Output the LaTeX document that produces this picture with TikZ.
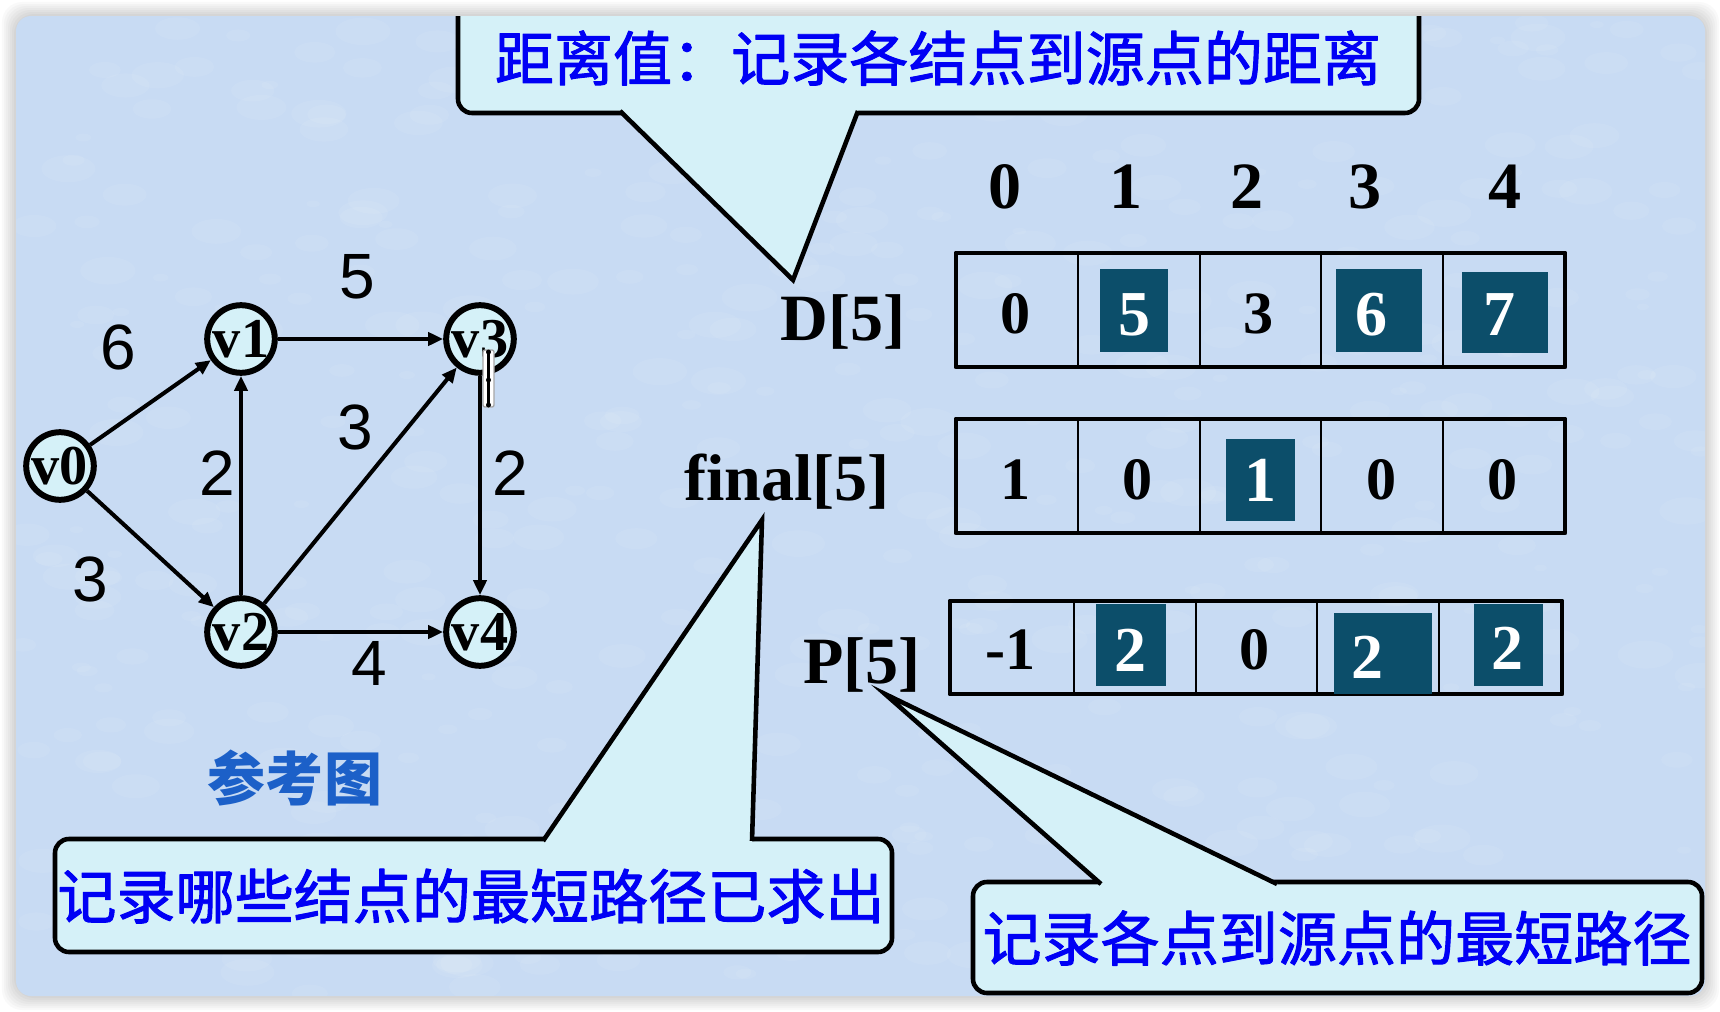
\documentclass[tikz,border=0pt]{standalone}
\usepackage[x11names]{xcolor}
\usepackage{fontspec}
\setmainfont{Liberation Serif}
\newfontfamily\sansnum{Liberation Sans}
\newfontfamily\cjk{Noto Sans CJK SC}[FakeBold=1.6]
\newfontfamily\cjkref{Noto Sans CJK SC}
\usetikzlibrary{arrows.meta}

\definecolor{panelbg}{RGB}{200,219,243}
\definecolor{tipfill}{RGB}{213,241,248}
\definecolor{cellmark}{RGB}{12,78,106}
\definecolor{tipblue}{RGB}{0,0,245}
\definecolor{refblue}{RGB}{28,96,200}

\begin{document}
\begin{tikzpicture}[x=0.01cm,y=-0.01cm,line join=round,
  vtx/.style={circle,draw,line width=1.7pt,fill=tipfill,minimum size=0.67cm,inner sep=0pt,font=\fontsize{16}{16}\selectfont\bfseries},
  edge/.style={->,>={Triangle[length=0.15cm,width=0.13cm]},line width=1.15pt},
  weight/.style={font=\sansnum\fontsize{18.2}{18.2}\selectfont},
  arrname/.style={anchor=base,font=\fontsize{18.8}{18.8}\selectfont\bfseries},
  cellval/.style={anchor=base,font=\fontsize{17.1}{17.1}\selectfont\bfseries},
  markval/.style={anchor=base,text=white,font=\fontsize{18.2}{18.2}\selectfont\bfseries},
  tipbox/.style={draw,fill=tipfill,line width=1.3pt,rounded corners=0.14cm},
  tipside/.style={line width=1.3pt,line join=miter},
  tiptext/.style={text=tipblue,inner sep=0pt,font=\cjk\fontsize{16.8}{16.8}\selectfont}]
\useasboundingbox (0,0) rectangle (1720,1012);
\fill[white] (0,0) rectangle (1720,1012);
\foreach \s in {2,4,...,14}
  \fill[black,opacity=0.025,rounded corners=0.2cm] (16-\s,16-\s) rectangle (1705+\s,996+\s);
\fill[panelbg,rounded corners=0.15cm] (16,16) rectangle (1705,996);

% texture
\pgfmathsetseed{12}
\begin{scope}
\clip[rounded corners=0.15cm] (16,16) rectangle (1705,996);
\foreach \i in {1,...,500} {
  \pgfmathsetmacro\xa{16+rnd*1689}
  \pgfmathsetmacro\ya{16+rnd*980}
  \pgfmathsetmacro\ra{6+rnd*22}
  \fill[white,opacity=0.07] (\xa,\ya) ellipse ({\ra*0.01cm} and {\ra*0.005cm});
}
\end{scope}

% callout 1
\begin{scope}
\clip[rounded corners=0.15cm] (16,16) rectangle (1705,996);
\draw[tipbox] (458,-40) rectangle (1419,113);
\end{scope}
\fill[tipfill] (620,108) -- (620,113) -- (793,280) -- (858,113) -- (858,108) -- cycle;
\draw[tipside] (620,111) -- (793,280) -- (858,111);
\node[tiptext] (tipD) at (938,58) {距离值：记录各结点到源点的距离};

% callout 2
\draw[tipbox] (55,839) rectangle (892,952);
\fill[tipfill] (543,844) -- (543,839) -- (762,520) -- (752,839) -- (752,844) -- cycle;
\draw[tipside] (543,841) -- (762,520) -- (752,841);
\node[tiptext] (tipF) at (471,896) {记录哪些结点的最短路径已求出};

% callout 3
\draw[tipbox] (973,882) rectangle (1702,993);
\fill[tipfill] (1101,887) -- (1101,882) -- (885,694) -- (1277,882) -- (1277,887) -- cycle;
\draw[tipside] (1101,884) -- (885,694) -- (1277,884);
\node[tiptext] (tipP) at (1337,938) {记录各点到源点的最短路径};

% graph
\node[vtx] (v0) at (60,466) {v0};
\node[vtx] (v1) at (241,339) {v1};
\node[vtx] (v2) at (241,632) {v2};
\node[vtx] (v3) at (480,339) {v3};
\node[vtx] (v4) at (480,632) {v4};

\draw[edge] (v0) -- (v1);
\draw[edge] (v0) -- (v2);
\draw[edge] (v1) -- (v3);
\draw[edge] (v2) -- (v1);
\draw[edge] (v2) -- (v3);
\draw[edge] (v3) -- (v4);
\draw[edge] (v2) -- (v4);

\node[weight] (w01) at (118,347) {6};
\node[weight] (w13) at (357,277) {5};
\node[weight] (w23) at (355,427) {3};
\node[weight] (w21) at (217,473) {2};
\node[weight] (w34) at (510,473) {2};
\node[weight] (w02) at (90,579) {3};
\node[weight] (w24) at (369,663) {4};

\draw[gray!70,fill=white,line width=0.4pt,rounded corners=0.02cm] (483,350) rectangle (494,407);
\draw[line width=0.7pt] (488.5,352) -- (488.5,405);
\fill (488.5,352) circle (0.025cm) (488.5,380) circle (0.025cm) (488.5,405) circle (0.025cm);

\node[text=refblue,font=\cjkref\fontsize{16.5}{16.5}\selectfont\bfseries] (ref) at (295,778) {参考图};

% arrays
\node[arrname] (nD) at (843,340) {D[5]};
\node[arrname] (nF) at (787,500) {final[5]};
\node[arrname] (nP) at (862,683) {P[5]};
\foreach \x/\i in {1005/0,1126/1,1247/2,1365/3,1505/4}
  \node[arrname] (h\i) at (\x,208) {\i};

\draw[line width=1.4pt] (956,253) rectangle (1565,367);
\draw[line width=1.4pt] (956,419) rectangle (1565,533);
\draw[line width=1.4pt] (950,601) rectangle (1562,694);
\foreach \x in {1078,1200,1321,1443} {
  \draw[line width=0.7pt] (\x,253) -- (\x,367);
  \draw[line width=0.7pt] (\x,419) -- (\x,533);
  \draw[line width=0.7pt] (\x-4,601) -- (\x-4,694);
}

\fill[cellmark] (1100,269) rectangle (1168,352);
\fill[cellmark] (1336,269) rectangle (1422,352);
\fill[cellmark] (1462,272) rectangle (1548,353);
\fill[cellmark] (1226,439) rectangle (1295,521);
\fill[cellmark] (1096,604) rectangle (1166,686);
\fill[cellmark] (1334,613) rectangle (1432,694);
\fill[cellmark] (1474,604) rectangle (1543,686);

\foreach \x/\v/\i in {1016/0/0,1259/3/2}
  \node[cellval] (d\i) at (\x,333) {\v};
\foreach \x/\v/\i in {1134/5/1,1371/6/3,1499/7/4}
  \node[markval] (d\i) at (\x,335) {\v};
\foreach \x/\v/\i in {1016/1/0,1138/0/1,1382/0/3,1503/0/4}
  \node[cellval] (f\i) at (\x,499) {\v};
\node[markval] (f2) at (1260,501) {1};
\foreach \x/\v/\i in {1011/-1/0,1255/0/2}
  \node[cellval] (p\i) at (\x,669) {\v};
\node[markval] (p1) at (1130,671) {2};
\node[markval] (p3) at (1367,678) {2};
\node[markval] (p4) at (1507,669) {2};
\end{tikzpicture}
\end{document}
